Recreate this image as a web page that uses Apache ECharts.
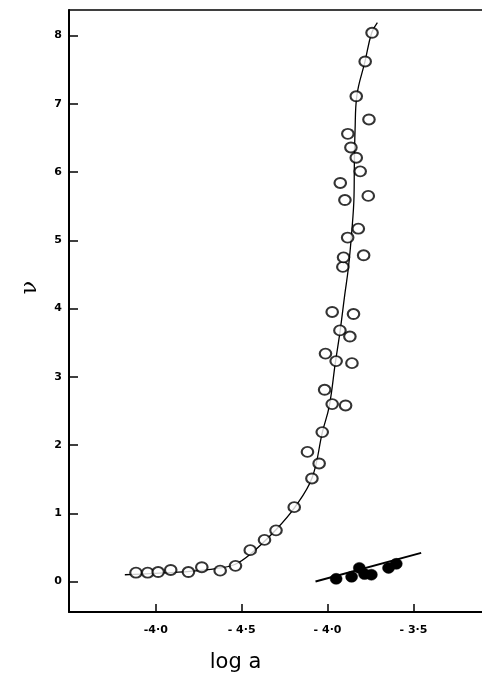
<!DOCTYPE html>
<html><head><meta charset="utf-8">
<script src="https://cdn.jsdelivr.net/npm/echarts@6/dist/echarts.min.js"></script>
<style>html,body{margin:0;padding:0;background:#fff}#c{width:482px;height:678px}</style>
</head><body><div id="c"></div>
<script>
// open circles (log a, nu)
const openPts = [
  [-5.115,0.13],[-5.047,0.13],[-4.986,0.14],[-4.913,0.17],[-4.81,0.14],[-4.732,0.21],
  [-4.625,0.16],[-4.536,0.23],[-4.45,0.46],[-4.367,0.61],[-4.30,0.75],[-4.194,1.09],
  [-4.091,1.51],[-4.117,1.90],[-4.049,1.73],[-4.031,2.19],[-4.017,2.81],[-3.973,2.60],
  [-3.895,2.58],[-4.012,3.34],[-3.95,3.23],[-3.858,3.20],[-3.928,3.68],[-3.870,3.59],
  [-3.973,3.95],[-3.849,3.92],[-3.911,4.61],[-3.907,4.75],[-3.790,4.78],[-3.883,5.04],
  [-3.821,5.17],[-3.899,5.59],[-3.926,5.84],[-3.763,5.65],[-3.810,6.01],[-3.833,6.21],
  [-3.864,6.36],[-3.882,6.56],[-3.759,6.77],[-3.833,7.11],[-3.781,7.62],[-3.741,8.04]
];
// fitted curve through open circles
const openCurve = [
  [-5.18,0.10],[-5.0,0.12],[-4.8,0.15],[-4.65,0.19],[-4.54,0.25],[-4.45,0.40],
  [-4.30,0.76],[-4.19,1.09],[-4.09,1.52],[-4.03,2.19],[-3.99,2.57],[-3.955,3.2],
  [-3.927,3.67],[-3.90,4.2],[-3.879,4.59],[-3.86,5.1],[-3.846,5.64],[-3.844,6.12],
  [-3.84,6.6],[-3.83,7.11],[-3.782,7.62],[-3.743,8.04],[-3.71,8.19]
];
// filled circles
const filledPts = [
  [-3.95,0.04],[-3.86,0.07],[-3.815,0.20],[-3.785,0.11],[-3.745,0.10],[-3.645,0.20],[-3.60,0.26]
];
const filledLine = [[-4.07,0.0],[-3.455,0.42]];
// axes
const xTickValues = [-5.0,-4.5,-4.0,-3.5];
const xTickLabels = ['-4·0','- 4·5','- 4·0','- 3·5'];
const yTickValues = [0,1,2,3,4,5,6,7,8];

const chart = echarts.init(document.getElementById('c'), null, {renderer:'canvas'});
chart.setOption({
  animation:false,
  backgroundColor:'#fff',
  grid:{left:69,right:0,top:10,bottom:55},
  xAxis:[{
    type:'value', min:-5.505, max:-3.101, position:'bottom',
    splitLine:{show:false},
    axisLine:{show:true,onZero:false,lineStyle:{color:'#000',width:2}},
    axisTick:{show:true,inside:true,length:8,lineStyle:{color:'#000',width:1.5},customValues:xTickValues},
    axisLabel:{show:true,margin:13,color:'#000',fontWeight:'bold',fontSize:11,fontFamily:'DejaVu Sans',
      customValues:xTickValues,
      formatter:function(v){const i=xTickValues.findIndex(t=>Math.abs(t-v)<1e-6);return i>=0?xTickLabels[i]:'';}},
    name:'log a', nameLocation:'middle', nameGap:40,
    nameTextStyle:{color:'#000',fontSize:21,fontFamily:'DejaVu Sans',fontWeight:'normal',padding:[0,80,0,0]}
  },{
    type:'value', min:-5.505, max:-3.101, position:'top',
    axisLine:{show:true,onZero:false,lineStyle:{color:'#000',width:1.5}},
    axisTick:{show:false},axisLabel:{show:false},splitLine:{show:false}
  }],
  yAxis:{
    type:'value', min:-0.446, max:8.374,
    splitLine:{show:false},
    axisLine:{show:true,onZero:false,lineStyle:{color:'#000',width:2}},
    axisTick:{show:true,inside:true,length:9,lineStyle:{color:'#000',width:1.5},customValues:yTickValues},
    axisLabel:{show:true,margin:7,color:'#000',fontWeight:'bold',fontSize:11,fontFamily:'DejaVu Sans',
      customValues:yTickValues,formatter:function(v){return String(Math.round(v));}},
    name:'ν', nameLocation:'middle', nameGap:28, nameRotate:90,
    nameTextStyle:{color:'#000',fontSize:22,fontFamily:'DejaVu Serif',padding:[0,0,0,47]}
  },
  series:[
    {type:'line',data:openCurve,smooth:0.4,showSymbol:false,symbol:'none',
      lineStyle:{color:'#000',width:1.3},z:2},
    {type:'line',data:filledLine,showSymbol:false,symbol:'none',
      lineStyle:{color:'#000',width:2},z:2},
    {type:'scatter',data:openPts,symbol:'circle',symbolSize:[11.5,10],
      itemStyle:{color:'#fff',borderColor:'#000',borderWidth:2},z:3},
    {type:'scatter',data:filledPts,symbol:'circle',symbolSize:[12,11],
      itemStyle:{color:'#000',borderColor:'#000',borderWidth:0.5,opacity:1},z:3}
  ]
});
</script></body></html>
